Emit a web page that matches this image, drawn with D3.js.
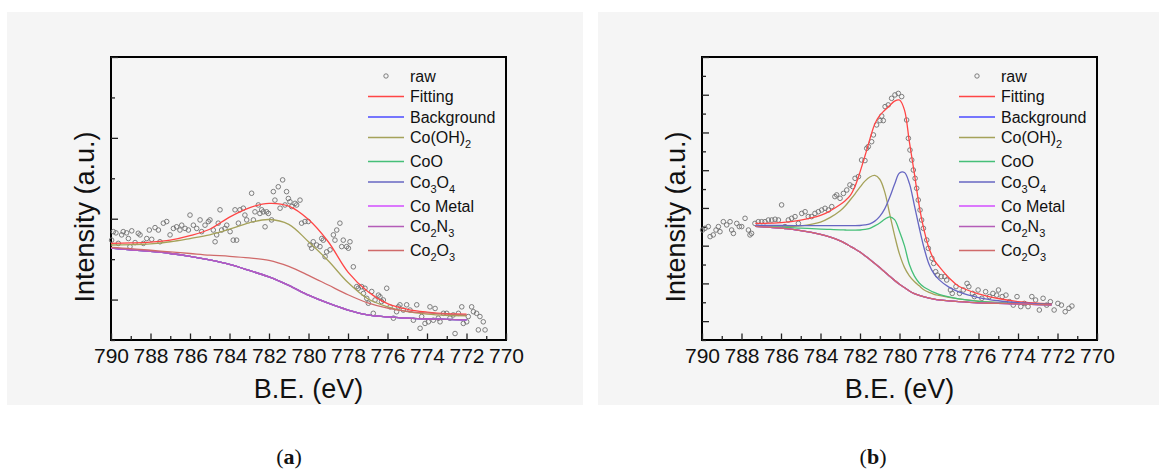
<!DOCTYPE html>
<html>
<head>
<meta charset="utf-8">
<script src="https://cdn.jsdelivr.net/npm/d3@7"></script>
<style>
  body { margin: 0; background: #fff; }
  svg { display: block; font-family: "Liberation Sans", Arial, sans-serif; }
</style>
</head>
<body>
<svg id="chart" width="1159" height="471"></svg>
<script>
// legend / series
var seriesNames = ['Fitting', 'Background', 'Co(OH)_2', 'CoO', 'Co_3O_4', 'Co Metal', 'Co_2N_3', 'Co_2O_3'];
var seriesColors = ['#ff4545', '#4a4aff', '#a5a25a', '#45bf78', '#6666c2', '#d24cff', '#b45cb8', '#d06a6a'];

// x ticks (B.E., eV)
var majorE = [790, 788, 786, 784, 782, 780, 778, 776, 774, 772, 770];
var minorE = [789, 787, 785, 783, 781, 779, 777, 775, 773, 771];

// panel (a)
var rawAE = [789.97,789.88,789.75,789.63,789.46,789.38,789.21,789.12,789.04,788.95,
  788.78,788.62,788.53,788.36,788.19,788.06,787.94,787.77,787.60,787.52,
  787.35,787.18,787.01,786.84,786.68,786.51,786.42,786.25,786.08,786.00,
  785.83,785.66,785.49,785.41,785.24,785.07,784.99,784.82,784.73,784.65,
  784.57,784.48,784.40,784.23,784.14,783.97,783.81,783.72,783.64,783.55,
  783.47,783.30,783.22,783.13,782.88,782.79,782.71,782.54,782.46,782.37,
  782.29,782.20,782.12,782.03,781.87,781.78,781.70,781.53,781.44,781.31,
  781.19,781.11,781.02,780.94,780.85,780.68,780.60,780.43,780.35,780.18,
  780.01,779.92,779.84,779.76,779.59,779.42,779.33,779.25,779.16,779.08,
  778.91,778.74,778.66,778.57,778.41,778.32,778.24,778.07,777.98,777.90,
  777.73,777.56,777.48,777.31,777.22,777.14,777.05,776.97,776.80,776.72,
  776.63,776.46,776.38,776.30,776.21,776.04,775.87,775.70,775.54,775.45,
  775.37,775.20,775.03,774.86,774.69,774.52,774.35,774.27,774.10,773.93,
  773.85,773.68,773.59,773.43,773.34,773.17,773.00,772.84,772.67,772.58,
  772.41,772.24,772.16,771.99,771.91,771.74,771.65,771.49,771.40,771.32,
  771.15,771.06];
var rawAI = [2.47,2.68,2.65,2.39,2.60,2.68,2.65,2.51,2.31,2.70,
  2.41,2.64,2.60,2.39,2.51,2.72,2.49,2.78,2.72,2.43,
  2.89,2.93,2.60,2.76,2.80,2.72,2.84,2.76,2.72,3.09,
  2.84,2.76,2.97,2.68,2.84,2.93,2.97,2.72,2.43,2.60,
  2.89,3.22,2.72,2.76,2.84,2.68,2.47,3.22,2.47,2.89,
  3.22,3.26,3.09,2.97,3.63,2.97,3.17,3.34,3.13,3.22,
  3.17,2.80,3.17,3.13,2.97,3.67,3.46,3.79,3.26,3.96,
  3.34,3.67,3.50,3.42,3.30,3.38,3.34,3.46,2.89,2.93,
  2.93,2.35,2.27,2.43,2.35,2.31,2.51,2.47,2.06,2.18,
  2.23,2.60,2.47,2.72,2.89,2.31,2.47,2.31,2.27,2.43,
  1.81,1.32,1.28,1.32,1.15,1.28,1.03,0.91,1.20,0.66,
  0.99,1.11,1.07,0.95,0.99,1.28,0.82,0.54,0.70,0.82,
  0.87,0.74,0.87,0.74,0.49,0.87,0.29,0.58,0.41,0.45,
  0.82,0.49,0.78,0.54,0.45,0.66,0.66,0.54,0.62,0.16,
  0.66,0.82,0.41,0.45,0.58,0.82,0.70,0.66,0.25,0.58,
  0.45,0.25];
var gridA = [790, 789, 788, 787, 786, 785, 784, 783, 782, 781, 780, 779, 778, 777, 776, 775, 774, 773, 772];
var fitA = [2.39,2.40,2.42,2.47,2.58,2.74,3.04,3.27,3.38,3.31,2.98,2.43,1.68,1.20,0.90,0.76,0.69,0.65,0.64];
var coohA = [2.35,2.36,2.38,2.43,2.51,2.60,2.74,2.90,2.98,2.86,2.43,1.96,1.42,1.02,0.82,0.70,0.64,0.61,0.60];
var bgA = [2.27,2.23,2.19,2.14,2.07,1.98,1.87,1.72,1.56,1.35,1.11,0.91,0.74,0.62,0.57,0.54,0.52,0.51,0.50];
var co2o3A = [2.29,2.26,2.22,2.18,2.14,2.10,2.07,2.03,1.97,1.82,1.60,1.36,1.12,0.92,0.79,0.71,0.67,0.64,0.62];

// panel (b)
var rawBE = [789.97,789.85,789.68,789.59,789.43,789.29,789.17,789.09,788.92,788.75,
  788.58,788.50,788.41,788.24,788.11,787.99,787.82,787.65,787.57,787.49,
  787.32,787.15,786.98,786.81,786.64,786.47,786.30,786.13,785.97,785.80,
  785.63,785.46,785.29,785.12,784.95,784.78,784.62,784.45,784.28,784.11,
  783.94,783.77,783.60,783.43,783.27,783.18,783.01,782.84,782.67,782.51,
  782.37,782.25,782.08,781.92,781.75,781.66,781.58,781.41,781.32,781.16,
  780.99,780.90,780.82,780.73,780.57,780.40,780.23,780.06,779.89,779.64,
  779.55,779.47,779.38,779.30,779.21,779.13,779.05,778.96,778.88,778.79,
  778.62,778.54,778.36,778.27,778.17,778.08,777.89,777.71,777.61,777.42,
  777.33,777.14,776.96,776.77,776.58,776.49,776.30,776.21,776.02,775.83,
  775.64,775.45,775.27,775.08,774.99,774.80,774.61,774.43,774.24,774.05,
  773.86,773.68,773.49,773.30,773.11,772.92,772.73,772.55,772.36,772.17,
  771.98,771.80,771.61,771.42,771.27];
var rawBI = [5.83,5.92,6.01,5.48,5.57,5.83,6.01,5.74,6.27,6.10,
  6.27,5.83,5.65,6.18,6.01,6.01,6.45,5.83,5.57,5.65,
  6.18,6.27,6.27,6.27,6.36,6.36,6.40,6.36,7.16,6.01,
  6.36,6.45,6.54,6.18,6.71,6.80,6.54,6.54,6.71,6.80,
  6.89,6.98,6.89,7.07,7.60,7.69,7.51,7.77,7.95,8.22,
  8.13,8.57,8.66,9.54,9.51,10.16,10.25,10.51,10.87,11.40,
  11.63,11.87,11.63,12.37,12.46,12.81,12.99,13.07,12.90,11.66,
  10.69,10.07,9.54,9.01,8.57,8.04,7.42,6.89,6.36,5.92,
  5.30,4.86,4.33,4.06,3.62,3.44,3.36,3.36,3.18,2.65,
  2.47,2.83,2.47,2.65,3.00,2.83,2.47,2.30,2.65,2.21,
  2.56,2.30,2.47,2.38,2.65,2.30,2.38,2.03,1.85,2.30,
  1.77,1.94,1.77,2.30,2.12,1.59,2.21,1.85,2.03,1.59,
  1.94,1.85,1.50,1.68,1.80];
var gridB = [787.3,786,785,784,783.5,783,782.75,782.5,782.25,782,781.75,781.5,781.25,781,780.75,780.5,
  780.25,780,779.75,779.5,779.25,779,778.75,778.5,778.25,778,777.5,777,776,775,774,773,772.3];
var fitB = [6.18,6.22,6.35,6.60,6.85,7.18,7.38,7.65,8.15,8.90,9.75,10.65,11.45,11.90,12.18,12.42,
  12.66,12.72,12.20,10.50,8.85,7.10,5.80,4.85,4.25,3.90,3.30,2.85,2.45,2.20,2.03,1.95,1.91];
var coohB = [6.02,6.00,6.05,6.25,6.50,6.85,7.10,7.42,7.75,8.10,8.42,8.64,8.72,8.52,7.85,6.70,
  5.55,4.55,3.85,3.40,3.10,2.87,2.65,2.52,2.42,2.36,2.26,2.18,2.06,1.98,1.93,1.89,1.87];
var cooB = [6.02,5.98,5.93,5.88,5.86,5.84,5.83,5.82,5.82,5.83,5.86,5.92,6.05,6.20,6.40,6.53,
  6.38,5.75,5.00,4.00,3.40,3.02,2.80,2.65,2.52,2.42,2.28,2.18,2.05,1.98,1.93,1.89,1.87];
var co3o4B = [6.08,6.07,6.06,6.06,6.06,6.06,6.06,6.06,6.06,6.07,6.10,6.16,6.30,6.55,6.95,7.55,
  8.25,8.85,8.88,8.30,7.15,5.95,4.85,4.00,3.50,3.20,2.80,2.55,2.25,2.08,1.98,1.92,1.90];
var lowB = [6.02,5.93,5.80,5.60,5.45,5.25,5.12,4.97,4.82,4.66,4.47,4.27,4.06,3.84,3.61,3.38,
  3.16,2.96,2.78,2.60,2.46,2.36,2.28,2.22,2.17,2.13,2.07,2.03,1.97,1.94,1.91,1.88,1.86];

var svg = d3.select('#chart');
var W = 395, TOP = 57, BOTTOM = 340;

function drawPanel(o) {
  var g = svg.append('g');

  g.append('rect')
    .attr('x', o.bgX).attr('y', 12)
    .attr('width', o.bgW).attr('height', 393)
    .attr('fill', '#f5f5f5');

  var x = d3.scaleLinear().domain([790, 770]).range([o.left, o.left + W]);
  var y = d3.scaleLinear().domain([0, o.yMax]).range([BOTTOM, TOP]);

  // frame first, underneath everything else
  g.append('rect')
    .attr('x', o.left).attr('y', TOP)
    .attr('width', W).attr('height', BOTTOM - TOP)
    .attr('fill', 'none')
    .attr('stroke', '#000')
    .attr('stroke-width', 2)
    .attr('shape-rendering', 'crispEdges');

  // x axis
  var xa = g.append('g')
    .attr('transform', 'translate(0,' + BOTTOM + ')')
    .call(d3.axisBottom(x).tickValues(majorE).tickSize(-6.5).tickSizeOuter(0).tickPadding(8).tickFormat(d3.format('d')));
  xa.append('g')
    .call(d3.axisBottom(x).tickValues(minorE).tickSize(-4).tickFormat(''));
  xa.selectAll('.domain').remove();
  xa.selectAll('.tick line').attr('stroke', '#222').attr('stroke-width', 1.3);
  xa.selectAll('text')
    .attr('font-size', 21)
    .attr('font-family', '"Liberation Sans", Arial, sans-serif')
    .attr('fill', '#111');

  // y axis (no labels)
  var yMajor = d3.range(1, o.yMax + 1, 2);
  var yMinor = d3.range(0, o.yMax + 1, 2);
  var ya = g.append('g')
    .attr('transform', 'translate(' + o.left + ',0)')
    .call(d3.axisLeft(y).tickValues(yMajor).tickSize(-7).tickSizeOuter(0).tickFormat(''));
  ya.append('g')
    .call(d3.axisLeft(y).tickValues(yMinor).tickSize(-4).tickFormat(''));
  ya.selectAll('.domain').remove();
  ya.selectAll('.tick line').attr('stroke', '#222').attr('stroke-width', 1.3);

  // raw points
  g.append('g').selectAll('circle')
    .data(o.rawE)
    .enter()
    .append('circle')
    .attr('cx', function(d) { return x(d); })
    .attr('cy', function(d, i) { return y(o.rawI[i]); })
    .attr('r', 2.3)
    .attr('fill', 'none')
    .attr('stroke', '#707070')
    .attr('stroke-width', 0.9);

  // fitted curves
  var line = d3.line()
    .x(function(d, i) { return x(o.grid[i]); })
    .y(function(d) { return y(d); })
    .curve(d3.curveCatmullRom.alpha(0.5));

  o.series.forEach(function(s, i) {
    g.append('path')
      .attr('d', line(s))
      .attr('fill', 'none')
      .attr('stroke', seriesColors[i])
      .attr('stroke-width', 1.3);
  });

  // axis titles
  g.append('text')
    .attr('x', o.left + W / 2).attr('y', 398)
    .attr('text-anchor', 'middle')
    .attr('font-size', 27)
    .attr('fill', '#111')
    .text('B.E. (eV)');

  g.append('text')
    .attr('transform', 'rotate(-90)')
    .attr('x', -217).attr('y', o.left - 17.5)
    .attr('text-anchor', 'middle')
    .attr('font-size', 27)
    .attr('fill', '#111')
    .text('Intensity (a.u.)');

  // legend
  var right = o.left + W;
  var leg = g.append('g');
  var rowY = 76;
  var rows = ['raw'].concat(seriesNames);
  rows.forEach(function(name, i) {
    if (i > 0) {
      rowY += 20.5 + (rows[i - 1].indexOf('_') >= 0 ? 3.5 : 0);
    }
    if (i === 0) {
      leg.append('circle')
        .attr('cx', right - 120).attr('cy', rowY).attr('r', 2.2)
        .attr('fill', 'none').attr('stroke', '#707070').attr('stroke-width', 0.9);
    } else {
      leg.append('line')
        .attr('x1', right - 138).attr('x2', right - 102)
        .attr('y1', rowY).attr('y2', rowY)
        .attr('stroke', seriesColors[i - 1]).attr('stroke-width', 1.4);
    }
    var t = leg.append('text')
      .attr('x', right - 96).attr('y', rowY + 5.5)
      .attr('font-size', 16)
      .attr('fill', '#111');
    name.split(/_(\d)/).forEach(function(part, k) {
      if (!part) return;
      if (k % 2 === 1) {
        t.append('tspan').attr('font-size', 11).attr('dy', 5).text(part);
      } else {
        t.append('tspan').attr('dy', k > 0 ? -5 : 0).text(part);
      }
    });
  });

  // caption
  var cap = svg.append('text')
    .attr('x', o.capX).attr('y', 464)
    .attr('text-anchor', 'middle')
    .attr('font-family', '"Liberation Serif", "Times New Roman", serif')
    .attr('font-size', 22)
    .attr('fill', '#111');
  cap.append('tspan').text('(');
  cap.append('tspan').attr('font-weight', 'bold').text(o.cap);
  cap.append('tspan').text(')');
}

drawPanel({
  bgX: 7, bgW: 576, left: 111, yMax: 7, capX: 289, cap: 'a',
  rawE: rawAE, rawI: rawAI, grid: gridA,
  series: [fitA, bgA, coohA, bgA, bgA, bgA, bgA, co2o3A]
});

drawPanel({
  bgX: 598, bgW: 561, left: 702, yMax: 15, capX: 873, cap: 'b',
  rawE: rawBE, rawI: rawBI, grid: gridB,
  series: [fitB, lowB, coohB, cooB, co3o4B, lowB, lowB, lowB]
});
</script>
</body>
</html>
